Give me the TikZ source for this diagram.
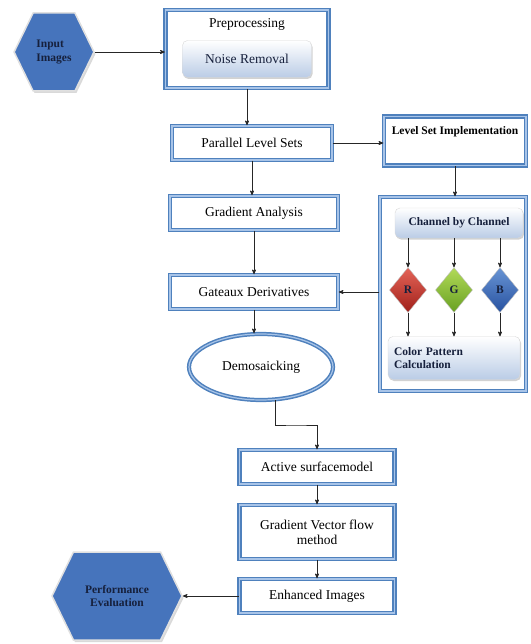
\documentclass[tikz,border=0pt]{standalone}
\usepackage{fontspec}
\setmainfont{Liberation Serif}
\usetikzlibrary{arrows,positioning,shapes.geometric,shapes.symbols,shadows}
\definecolor{rammeblaa}{RGB}{79,129,189}
\definecolor{hexblaa}{RGB}{70,116,188}
\definecolor{marine}{RGB}{22,32,60}
\definecolor{lysblaa}{RGB}{186,204,230}
\definecolor{mellomblaa}{RGB}{168,196,232}
\tikzset{
    %Define standard arrow tip
    >=stealth',
    %Define style for framed boxes
    boks/.style={
           rectangle,
           draw=rammeblaa, line width=1.5pt,
           double=mellomblaa, double distance=1.2pt,
           fill=white,
           minimum height=34pt,
           align=center,
           font=\fontsize{13.5}{15}\selectfont},
    %Define style for shaded inner boxes
    indre/.style={
           rectangle,
           rounded corners=5pt,
           draw=black!15, thin,
           top color=white, bottom color=lysblaa,
           drop shadow={shadow xshift=1pt, shadow yshift=-1.5pt, opacity=0.35},
           text=marine,
           font=\fontsize{11.5}{13.5}\selectfont\bfseries},
    %Define style for hexagons
    hexa/.style={
           signal, signal to=west and east,
           signal pointer angle=128,
           draw=black!12, line width=1.5pt,
           fill=hexblaa,
           drop shadow={shadow xshift=1.5pt, shadow yshift=-2pt, opacity=0.3},
           text=marine,
           font=\fontsize{11.5}{13.5}\selectfont\bfseries},
    %Define style for colour diamonds
    rute/.style={
           diamond,
           draw=white!75!black, thin,
           minimum width=37pt, minimum height=45pt,
           inner sep=0pt,
           text=marine,
           font=\fontsize{11.5}{13.5}\selectfont\bfseries},
    % Define arrow style
    pil/.style={
           ->,
           draw=black!85,
           line width=0.7pt}
}

\begin{document}
\begin{tikzpicture}[x=1pt, y=-1pt]
\useasboundingbox (0,0) rectangle (530,644);
%left column
\node[hexa, minimum width=78pt, minimum height=78pt, align=left] (inbilde) at (54,52) {Input\\Images};
\node[boks, minimum width=163pt, minimum height=78pt] (prep) at (247,49) {};
\node[font=\fontsize{13.5}{15}\selectfont] (preptekst) at (247,24) {Preprocessing};
\node[indre, minimum width=129pt, minimum height=37pt, font=\fontsize{13.5}{15}\selectfont] (stoy) at (247,59) {Noise Removal};
\node[boks, minimum width=160pt] (parallel) at (252,143) {Parallel Level Sets};
\node[boks, minimum width=168pt] (gradient) at (254,213) {Gradient Analysis};
\node[boks, minimum width=168pt] (gateaux) at (254,292) {Gateaux Derivatives};
\node[ellipse, draw=rammeblaa, line width=1.5pt, double=mellomblaa, double distance=1.2pt,
      fill=white, minimum width=144pt, minimum height=66pt,
      font=\fontsize{13.5}{15}\selectfont] (demo) at (261,367) {Demosaicking};
%right column
\node[boks, minimum width=142pt, minimum height=49pt] (levelset) at (455,141) {};
\node[font=\fontsize{11.5}{13.5}\selectfont\bfseries] (leveltekst) at (455,132) {Level Set Implementation};
\node[boks, minimum width=146pt, minimum height=194pt] (panel) at (453,294) {};
\node[indre, minimum width=128pt, minimum height=30pt] (kanal) at (459,223) {Channel by Channel};
\node[rute, top color={rgb,255:red,228;green,100;blue,88}, bottom color={rgb,255:red,160;green,32;blue,26}] (rr) at (408,290) {R};
\node[rute, top color={rgb,255:red,178;green,218;blue,88}, bottom color={rgb,255:red,104;green,160;blue,34}] (gg) at (454,290) {G};
\node[rute, top color={rgb,255:red,104;green,148;blue,212}, bottom color={rgb,255:red,40;green,82;blue,160}] (bb) at (500,290) {B};
\node[indre, minimum width=132pt, minimum height=43pt, align=left, text width=120pt] (farge) at (454,358) {Color Pattern\\Calculation};
%bottom column
\node[boks, minimum width=155pt] (aktiv) at (317,467) {Active surfacemodel};
\node[boks, minimum width=155pt, minimum height=54pt] (gvf) at (317,532) {Gradient Vector flow\\method};
\node[boks, minimum width=155pt] (forbedret) at (317,596) {Enhanced Images};
\node[hexa, minimum width=130pt, minimum height=88pt, align=center] (ytelse) at (117,596) {Performance\\Evaluation};
\coordinate (knekk) at (296,425);
%connectors
\draw[pil] (inbilde.east) -- (prep.west |- inbilde.east);
\draw[pil] (prep.south) -- (prep.south |- parallel.north);
\draw[pil] (parallel.east) -- (levelset.west |- parallel.east);
\draw[pil] (parallel.south) -- (parallel.south |- gradient.north);
\draw[pil] (levelset.south) -- (levelset.south |- panel.north);
\draw[pil] (gradient.south) -- (gateaux.north);
\draw[pil] (panel.west |- gateaux.east) -- (gateaux.east);
\foreach \r in {rr,gg,bb}{
  \draw[pil] (\r |- kanal.south) -- (\r.north);
  \draw[pil] (\r.south) -- (\r |- farge.north);
}
\draw[pil] (gateaux.south) -- (gateaux.south |- demo.north);
\draw[pil] (demo.293) |- (knekk) -| (aktiv.north);
\draw[pil] (aktiv.south) -- (gvf.north);
\draw[pil] (gvf.south) -- (forbedret.north);
\draw[pil] (forbedret.west) -- (ytelse.east);
\end{tikzpicture}
\end{document}
